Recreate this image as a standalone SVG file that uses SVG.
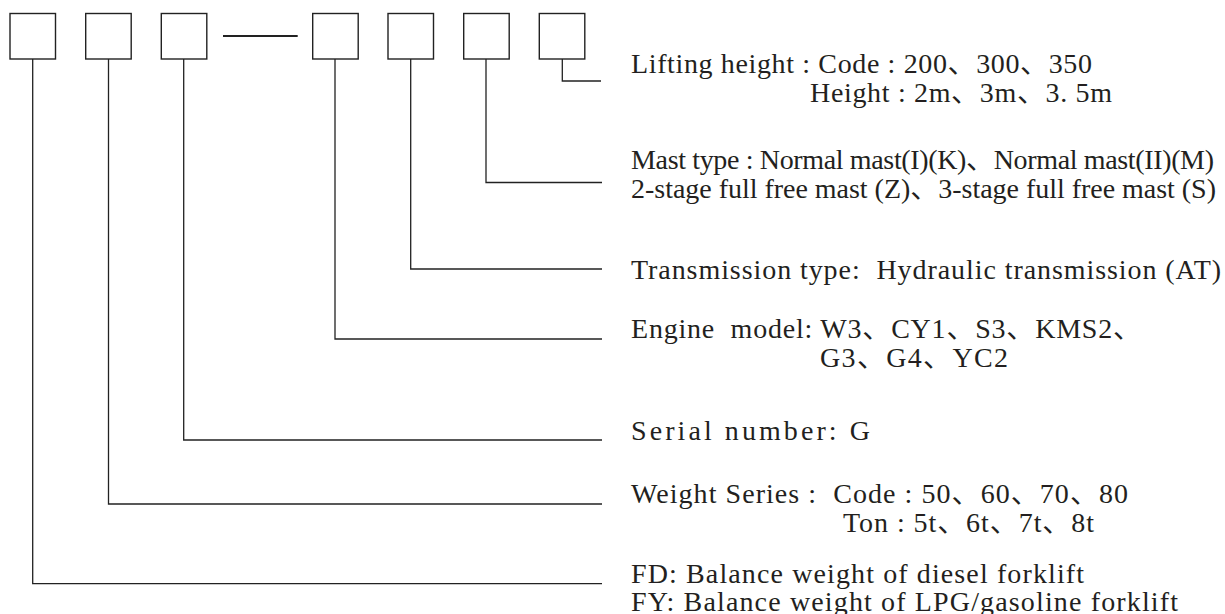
<svg xmlns="http://www.w3.org/2000/svg" width="1225" height="614" viewBox="0 0 1225 614">
<style>
.box{fill:#fff;stroke:#222;stroke-width:1.4}
.con{fill:none;stroke:#222;stroke-width:1.3}
.t{font-family:"Liberation Serif","Noto Sans CJK SC",serif;font-size:28px;fill:#231f20;white-space:pre}
</style>
<rect width="1225" height="614" fill="#fff"/>
<g id="connectors">
<path class="con" d="M32.7,59 V583.7 H602"/>
<path class="con" d="M108.5,59 V504 H602"/>
<path class="con" d="M183.7,59 V440 H602"/>
<path class="con" d="M335,59 V339 H602"/>
<path class="con" d="M410.7,59 V269 H602"/>
<path class="con" d="M486,59 V182.5 H602"/>
<path class="con" d="M562.3,59 V81 H601"/>
<line x1="223" y1="36" x2="297.7" y2="36" stroke="#222" stroke-width="2"/>
</g>
<g id="box1"><rect class="box" x="10" y="13.5" width="45.5" height="45.5"/></g>
<g id="box2"><rect class="box" x="85.7" y="13.5" width="45.5" height="45.5"/></g>
<g id="box3"><rect class="box" x="161.3" y="13.5" width="45.5" height="45.5"/></g>
<g id="box4"><rect class="box" x="312.7" y="13.5" width="45.5" height="45.5"/></g>
<g id="box5"><rect class="box" x="388" y="13.5" width="45.5" height="45.5"/></g>
<g id="box6"><rect class="box" x="463.7" y="13.5" width="45.5" height="45.5"/></g>
<g id="box7"><rect class="box" x="539.3" y="13.5" width="45.5" height="45.5"/></g>
<g id="label-lifting">
<text class="t" x="631" y="73" textLength="461">Lifting height : Code : 200、300、350</text>
<text class="t" x="810" y="102" textLength="302">Height : 2m、3m、3. 5m</text>
</g>
<g id="label-mast">
<text class="t" x="631" y="169" textLength="583">Mast type : Normal mast(I)(K)、Normal mast(II)(M)</text>
<text class="t" x="631" y="198" textLength="585">2-stage full free mast (Z)、3-stage full free mast (S)</text>
</g>
<g id="label-transmission">
<text class="t" x="631" y="279" textLength="590">Transmission type:  Hydraulic transmission (AT)</text>
</g>
<g id="label-engine">
<text class="t" x="631" y="338" textLength="510">Engine  model: W3、CY1、S3、KMS2、</text>
<text class="t" x="820" y="367" textLength="188">G3、G4、YC2</text>
</g>
<g id="label-serial">
<text class="t" x="631" y="440" textLength="239">Serial number: G</text>
</g>
<g id="label-weight">
<text class="t" x="631" y="503" textLength="497">Weight Series :  Code : 50、60、70、80</text>
<text class="t" x="843" y="532" textLength="251">Ton : 5t、6t、7t、8t</text>
</g>
<g id="label-fuel">
<text class="t" x="631" y="583" textLength="453">FD: Balance weight of diesel forklift</text>
<text class="t" x="631" y="611" textLength="547">FY: Balance weight of LPG/gasoline forklift</text>
</g>
</svg>
